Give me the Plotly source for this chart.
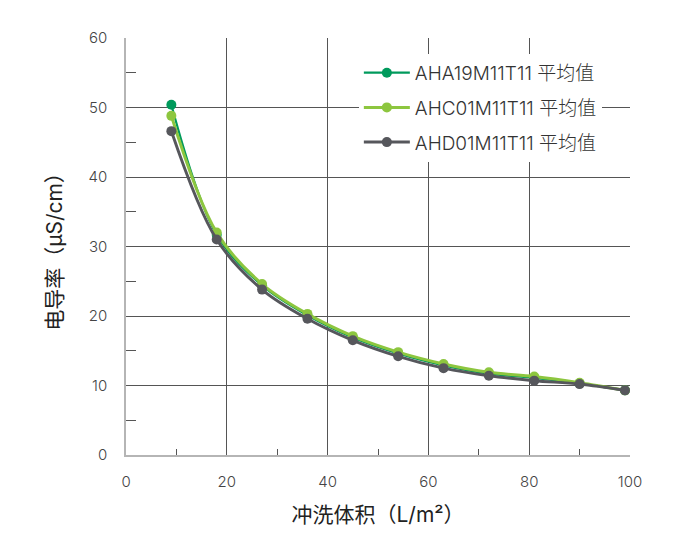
import plotly.graph_objects as go

volume = [9, 18, 27, 36, 45, 54, 63, 72, 81, 90, 99]
aha19 = [50.4, 31.7, 24.4, 20.1, 16.9, 14.6, 12.9, 11.7, 11.1, 10.3, 9.3]
ahc01 = [48.8, 32.0, 24.6, 20.3, 17.1, 14.8, 13.1, 11.9, 11.3, 10.4, 9.3]
ahd01 = [46.6, 31.0, 23.8, 19.6, 16.5, 14.2, 12.5, 11.4, 10.7, 10.2, 9.3]
names = ["AHA19M11T11 平均值", "AHC01M11T11 平均值", "AHD01M11T11 平均值"]
colors = ["#009a5c", "#8dc63f", "#56575c"]

fig = go.Figure()
for i, (ys, w) in enumerate(zip([aha19, ahc01, ahd01], [2.2, 3, 3])):
    fig.add_trace(go.Scatter(
        x=volume, y=ys, name=names[i], mode="lines+markers",
        line=dict(color=colors[i], width=w, shape="spline", smoothing=1),
        marker=dict(color=colors[i], size=10),
        legendgroup=str(i),
    ))

font = "Inter, Noto Sans CJK SC, sans-serif"
fig.update_layout(
    width=680, height=555,
    margin=dict(l=118, r=58, t=30, b=108),
    paper_bgcolor="white", plot_bgcolor="white",
    font=dict(family=font, color="#444", size=15),
    showlegend=True,
    legend=dict(x=0.462, y=0.962, xanchor="left", yanchor="top",
                font=dict(size=19, color="#333", weight=300), tracegroupgap=7,
                bgcolor="white", itemwidth=46),
    xaxis=dict(range=[0, 100], dtick=20, tick0=0, showgrid=True,
               gridcolor="#555", gridwidth=1, zeroline=False,
               showline=True, linecolor="#b5b5b5", linewidth=1.5,
               ticks="", ticklabelstandoff=12,
               tickfont=dict(size=15, color="#444", weight=300),
               minor=dict(dtick=10, ticks="inside", ticklen=6,
                          tickcolor="#555", showgrid=False),
               title=dict(text="冲洗体积（L/m²）", font=dict(size=21, color="#222"),
                          standoff=18)),
    yaxis=dict(range=[0, 60], dtick=10, tick0=0, showgrid=True,
               gridcolor="#555", gridwidth=1, zeroline=False,
               showline=True, linecolor="#b5b5b5", linewidth=1.5,
               ticks="", ticklabelstandoff=14,
               tickfont=dict(size=15, color="#444", weight=300),
               minor=dict(dtick=5, ticks="inside", ticklen=10,
                          tickcolor="#555", showgrid=False),
               title=dict(text="电导率（μS/cm）", font=dict(size=21, color="#222"),
                          standoff=20)),
)

fig.write_html("out.html")
